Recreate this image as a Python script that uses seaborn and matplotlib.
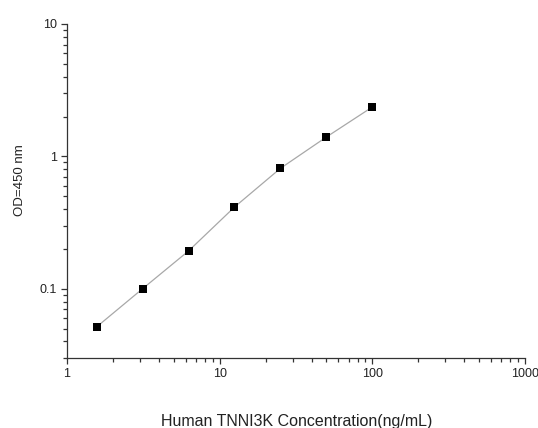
import numpy as np
import pandas as pd
import matplotlib
matplotlib.use("Agg")
import matplotlib.pyplot as plt
import seaborn as sns
from matplotlib.ticker import FixedLocator, LogLocator, NullFormatter

# standard curve data
concentration = [1.5625, 3.125, 6.25, 12.5, 25, 50, 100]
od_450 = [0.0515, 0.100, 0.193, 0.414, 0.812, 1.40, 2.36]

x_ticks = [1, 10, 100, 1000]
x_tick_labels = ["1", "10", "100", "1000"]
y_ticks = [0.1, 1, 10]
y_tick_labels = ["0.1", "1", "10"]

x_title = "Human TNNI3K Concentration(ng/mL)"
y_title = "OD=450 nm"


def main():
    sns.set_style("ticks")
    plt.rcParams['font.family'] = ['Liberation Sans', 'DejaVu Sans']

    df = pd.DataFrame({'conc': concentration, 'od': od_450})

    fig = plt.figure(figsize=(5.38, 4.28), dpi=100)
    ax = fig.add_axes([67 / 538, 1 - 358 / 428, 458 / 538, 334 / 428])

    sns.lineplot(data=df, x='conc', y='od', ax=ax, color='#a8a8a8', linewidth=0.9)
    sns.scatterplot(data=df, x='conc', y='od', ax=ax, marker='s', s=36,
                    color='black', edgecolor='black', linewidth=0, zorder=3)

    ax.set_xscale('log')
    ax.set_yscale('log')
    ax.set_xlim(1, 1000)
    ax.set_ylim(0.03, 10)

    ax.xaxis.set_major_locator(FixedLocator(x_ticks))
    ax.set_xticklabels(x_tick_labels)
    ax.yaxis.set_major_locator(FixedLocator(y_ticks))
    ax.set_yticklabels(y_tick_labels)
    for axis in (ax.xaxis, ax.yaxis):
        axis.set_minor_locator(LogLocator(base=10, subs=np.arange(2, 10), numticks=20))
        axis.set_minor_formatter(NullFormatter())

    ax.tick_params(which='major', length=4.3, width=0.9, color='#333333',
                   labelsize=9, labelcolor='#222222', pad=3)
    ax.tick_params(which='minor', length=2.8, width=0.9, color='#333333')

    sns.despine(ax=ax)
    for side in ('left', 'bottom'):
        ax.spines[side].set_linewidth(0.9)
        ax.spines[side].set_color('#333333')

    ax.set_xlabel(x_title, fontsize=11.5, color='#222222', va='center')
    ax.xaxis.set_label_coords(0.501, -0.19)
    ax.set_ylabel(y_title, fontsize=9.5, color='#222222', va='center')
    ax.yaxis.set_label_coords(-0.103, 0.533)

    fig.savefig('out.png', dpi=100)


if __name__ == "__main__":
    main()
